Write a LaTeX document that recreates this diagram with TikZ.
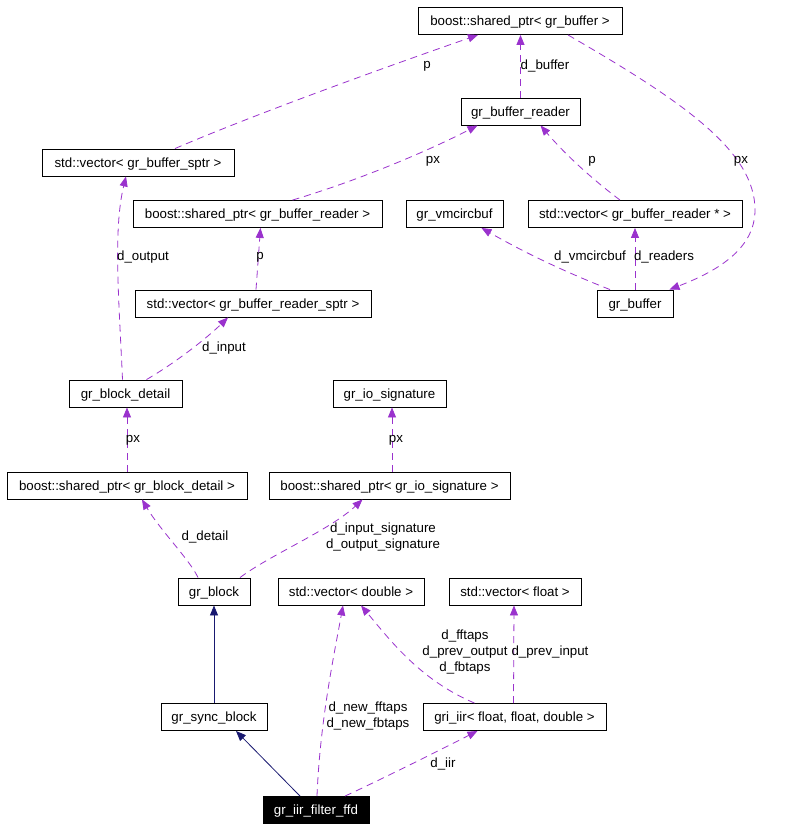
\documentclass[tikz,border=0pt]{standalone}
\usepackage{fontspec}
\setmainfont{Liberation Sans}
\usetikzlibrary{arrows.meta}
\definecolor{edgep}{HTML}{9A32CD}
\definecolor{edgen}{HTML}{191970}
\begin{document}
\begin{tikzpicture}[x=1pt,y=-1pt,
  box/.style={draw=black,line width=0.9pt,minimum height=27pt,inner sep=0pt,text height=11.5pt,text depth=2.5pt,font=\fontsize{13.3}{16}\selectfont,anchor=center},
  mem/.style={draw=edgep,line width=0.8pt,dash pattern=on 7pt off 5pt,-{Triangle[length=10pt,width=8pt]}},
  inh/.style={draw=edgen,line width=0.8pt,-{Triangle[length=10pt,width=8pt]}},
  lab/.style={font=\fontsize{13.3}{16}\selectfont,align=center,inner sep=0pt}]
\useasboundingbox[fill=white] (0,0) rectangle (800,831);
% nodes
\node[box,minimum width=204pt] (bsgb) at (520,21) {boost::shared\_ptr< gr\_buffer >};
\node[box,minimum width=119pt] (gbr) at (520.5,111.5) {gr\_buffer\_reader};
\node[box,minimum width=192pt] (svbs) at (138,162.5) {std::vector< gr\_buffer\_sptr >};
\node[box,minimum width=249pt] (bsgbr) at (257.5,214) {boost::shared\_ptr< gr\_buffer\_reader >};
\node[box,minimum width=97pt] (vmc) at (454.5,214) {gr\_vmcircbuf};
\node[box,minimum width=214pt] (svbrp) at (635,214) {std::vector< gr\_buffer\_reader * >};
\node[box,minimum width=236pt] (svbrs) at (253,303.5) {std::vector< gr\_buffer\_reader\_sptr >};
\node[box,minimum width=76pt] (gbuf) at (635,303.5) {gr\_buffer};
\node[box,minimum width=113pt] (gbd) at (125.5,393.5) {gr\_block\_detail};
\node[box,minimum width=113pt] (gios) at (389.5,393.5) {gr\_io\_signature};
\node[box,minimum width=240pt] (bsgbd) at (127,485.5) {boost::shared\_ptr< gr\_block\_detail >};
\node[box,minimum width=241pt] (bsgios) at (389.5,485.5) {boost::shared\_ptr< gr\_io\_signature >};
\node[box,minimum width=72pt] (gblk) at (214,591.5) {gr\_block};
\node[box,minimum width=146pt] (svd) at (351,591.5) {std::vector< double >};
\node[box,minimum width=132pt] (svf) at (515,591.5) {std::vector< float >};
\node[box,minimum width=106pt] (gsb) at (214,717) {gr\_sync\_block};
\node[box,minimum width=183pt] (gri) at (514.5,717) {gri\_iir< float, float, double >};
\node[box,minimum width=106pt,fill=black,text=white] (giff) at (316,810) {gr\_iir\_filter\_ffd};
% edges
\draw[mem] ([xshift=37pt]svbs.north) .. controls (260,112) and (400,62) .. ([xshift=-42pt]bsgb.south);
\node[lab] (l1) at (427,66) {p};
\draw[mem] (gbr.north) -- (gbr.north |- bsgb.south);
\node[lab] (l2) at (545,66) {d\_buffer};
\draw[mem] ([xshift=48pt]bsgb.south) .. controls (680,100) and (755,150) .. (755,210) .. controls (755,250) and (715,272) .. ([xshift=-4pt]gbuf.north east);
\node[lab] (l3) at (741,161) {px};
\draw[mem] ([xshift=35pt]bsgbr.north) .. controls (360,180) and (430,150) .. ([xshift=-43pt]gbr.south);
\node[lab] (l4) at (433,161) {px};
\draw[mem] ([xshift=-15pt]svbrp.north) .. controls (600,185) and (570,160) .. ([xshift=20pt]gbr.south);
\node[lab] (l5) at (592,161) {p};
\draw[mem] ([xshift=-25pt]gbuf.north) .. controls (560,270) and (520,250) .. ([xshift=27pt]vmc.south);
\node[lab] (l6) at (590,257) {d\_vmcircbuf};
\draw[mem] (gbuf.north) -- (gbuf.north |- svbrp.south);
\node[lab] (l7) at (664,257) {d\_readers};
\draw[mem] ([xshift=3pt]svbrs.north) -- ([xshift=3pt]bsgbr.south);
\node[lab] (l8) at (260,257) {p};
\draw[mem] ([xshift=-3pt]gbd.north) .. controls (119,300) and (113,230) .. ([xshift=-12pt]svbs.south);
\node[lab] (l9) at (143,257) {d\_output};
\draw[mem] ([xshift=21pt]gbd.north) .. controls (180,360) and (210,335) .. ([xshift=-25pt]svbrs.south);
\node[lab] (l10) at (224,348) {d\_input};
\draw[mem] (bsgbd.north) -- (bsgbd.north |- gbd.south);
\node[lab] (l11) at (133,440) {px};
\draw[mem] ([xshift=2.5pt]bsgios.north) -- ([xshift=2.5pt]gios.south);
\node[lab] (l12) at (396,440) {px};
\draw[mem] ([xshift=-16pt]gblk.north) .. controls (190,560) and (160,530) .. ([xshift=15pt]bsgbd.south);
\node[lab] (l13) at (205,537) {d\_detail};
\draw[mem] ([xshift=26pt]gblk.north) .. controls (270,555) and (330,530) .. ([xshift=-27pt]bsgios.south);
\node[lab] (l14) at (383,537) {d\_input\_signature\\d\_output\_signature};
\draw[inh] (gsb.north) -- (gblk.south);
\draw[inh] ([xshift=-16pt]giff.north) -- ([xshift=22pt]gsb.south);
\draw[mem] ([xshift=1pt]giff.north) .. controls (320,720) and (335,650) .. ([xshift=-8pt]svd.south);
\node[lab] (l17) at (368,716) {d\_new\_fftaps\\d\_new\_fbtaps};
\draw[mem] ([xshift=-40pt]gri.north) .. controls (420,680) and (390,640) .. ([xshift=10pt]svd.south);
\node[lab] (l18) at (465,652) {d\_fftaps\\d\_prev\_output\\d\_fbtaps};
\draw[mem] ([xshift=-1pt]gri.north) -- ([xshift=-1pt]svf.south);
\node[lab] (l19) at (550,652) {d\_prev\_input};
\draw[mem] ([xshift=29pt]giff.north) .. controls (380,780) and (440,750) .. ([xshift=-37pt]gri.south);
\node[lab] (l20) at (443,764) {d\_iir};
\end{tikzpicture}
\end{document}
